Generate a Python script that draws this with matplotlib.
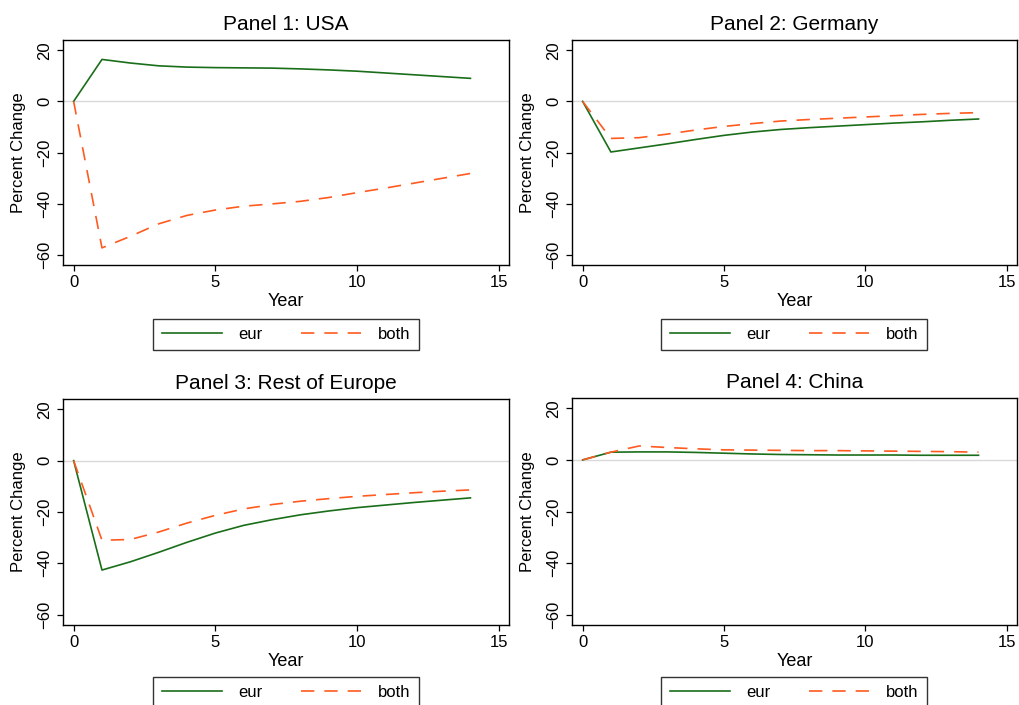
import matplotlib
matplotlib.use("Agg")
import matplotlib.pyplot as plt

plt.rcParams['font.family'] = ['Liberation Sans', 'DejaVu Sans']

years = list(range(15))

titles = ["Panel 1: USA", "Panel 2: Germany", "Panel 3: Rest of Europe", "Panel 4: China"]

usa_eur = [0, 16.4, 15.0, 13.9, 13.4, 13.2, 13.1, 13.0, 12.7, 12.3, 11.8, 11.1, 10.4, 9.7, 9.0]
usa_both = [0, -57.3, -52.8, -47.9, -44.6, -42.5, -41.0, -40.1, -39.1, -37.6, -35.7, -33.9, -32.0, -30.1, -28.2]

ger_eur = [0, -19.8, -18.2, -16.6, -14.9, -13.3, -12.0, -11.0, -10.3, -9.7, -9.1, -8.5, -8.0, -7.4, -6.9]
ger_both = [0, -14.5, -14.2, -12.8, -11.2, -9.8, -8.7, -7.7, -7.1, -6.6, -6.1, -5.6, -5.1, -4.7, -4.4]

roe_eur = [0, -42.6, -39.4, -35.7, -31.8, -28.2, -25.2, -23.0, -21.1, -19.6, -18.3, -17.3, -16.3, -15.4, -14.5]
roe_both = [0, -31.0, -30.7, -27.8, -24.3, -21.3, -18.8, -17.1, -15.8, -14.8, -13.9, -13.2, -12.5, -11.9, -11.4]

chn_eur = [0, 3.0, 3.1, 3.1, 2.9, 2.6, 2.3, 2.1, 2.0, 1.9, 1.9, 1.9, 1.8, 1.8, 1.8]
chn_both = [0, 3.0, 5.4, 4.8, 4.3, 3.9, 3.8, 3.7, 3.6, 3.6, 3.5, 3.4, 3.3, 3.2, 3.0]

series = [(usa_eur, usa_both), (ger_eur, ger_both), (roe_eur, roe_both), (chn_eur, chn_both)]

xticks = [0, 5, 10, 15]
yticks = [-60, -40, -20, 0, 20]

W, H = 1019, 705
fig = plt.figure(figsize=(W / 100, H / 100), dpi=100)

# axes rectangles in pixels: left, top, right, bottom
rects = [(63, 40, 509, 265), (572, 40, 1017, 265), (63, 399, 509, 625), (572, 398, 1017, 625)]
legend_centers = [(286, 334.5), (794, 334.5), (286, 692.5), (794, 692.5)]

green = '#1a6e1a'
orange = '#ff5a1f'

for i, (rect, (eur, both)) in enumerate(zip(rects, series)):
    l, t, r, b = rect
    ax = fig.add_axes([l / W, 1 - b / H, (r - l) / W, (b - t) / H])
    ax.axhline(0, color='#d9d9d9', lw=1.0, zorder=1)
    ax.plot(years, eur, color=green, lw=1.2, label='eur', zorder=3)
    ax.plot(years, both, color=orange, lw=1.2, dashes=(8, 6), label='both', zorder=3)
    ax.set_xlim(-0.375, 15.36)
    ax.set_ylim(-64, 24)
    ax.set_xticks(xticks)
    ax.set_yticks(yticks)
    ax.set_yticklabels([str(v).replace('-', '\u2212') for v in yticks])
    ax.tick_params(direction='out', length=4.5, width=0.9, labelsize=12, colors='black', pad=3)
    for lab in ax.get_yticklabels():
        lab.set_rotation(90)
        lab.set_va('center')
    for s in ax.spines.values():
        s.set_linewidth(1.0)
        s.set_color('black')
    ax.set_title(titles[i], fontsize=15, pad=7)
    ax.set_xlabel('Year', fontsize=13, labelpad=2)
    ax.set_ylabel('Percent Change', fontsize=12, labelpad=8)
    cx, cy = legend_centers[i]
    leg = fig.legend(*ax.get_legend_handles_labels(), loc='center',
                     bbox_to_anchor=(cx / W, 1 - cy / H), ncol=2, fontsize=12,
                     frameon=True, fancybox=False, edgecolor='black',
                     handlelength=3.6, handletextpad=1.0, columnspacing=2.3,
                     borderpad=0.5, borderaxespad=0)
    leg.get_frame().set_linewidth(1.0)

fig.savefig('out.png', dpi=100)
